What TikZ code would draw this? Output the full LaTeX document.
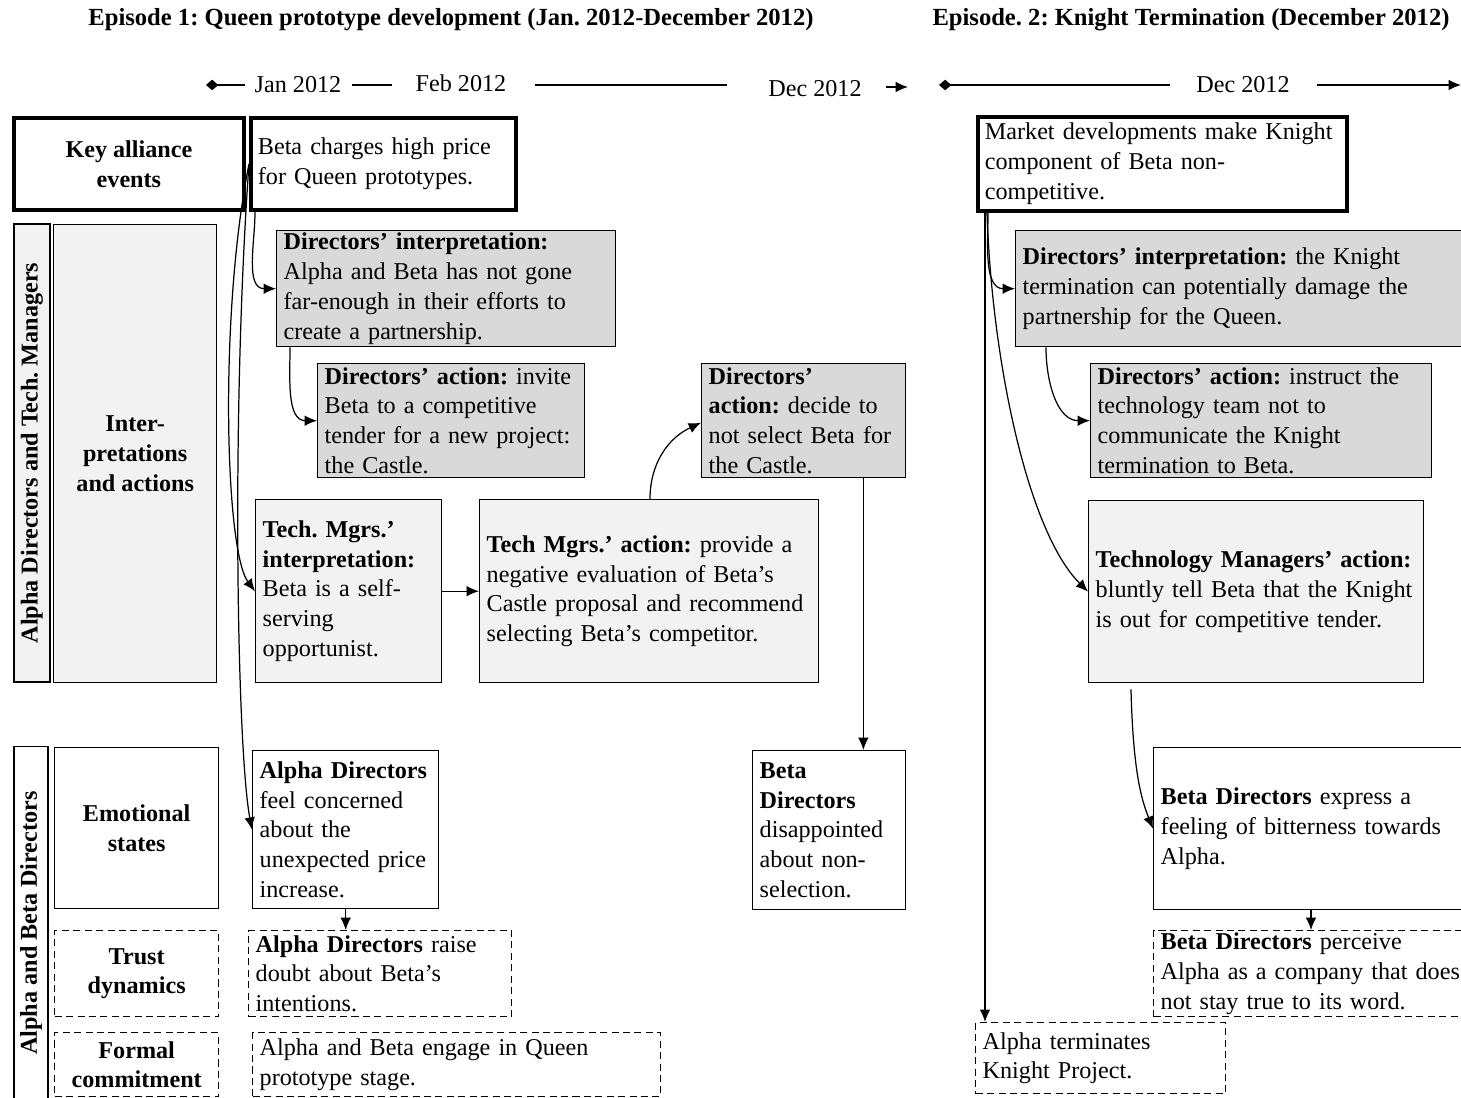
\documentclass[tikz,border=0pt]{standalone}
\usepackage{fontspec}
\setmainfont{Liberation Serif}
\usetikzlibrary{arrows.meta,calc}
\definecolor{darkfill}{HTML}{D9D9D9}
\definecolor{lightfill}{HTML}{F2F2F2}
\frenchspacing
\begin{document}
\begin{tikzpicture}[x=0.02cm, y=-0.02cm, >={Latex[length=7pt,width=6pt]},
	font=\fontsize{13.75pt}{17pt}\selectfont,
	box/.style = {draw, line width=0.8pt, anchor=north west, align=left, inner xsep=0.14cm, inner ysep=1pt},
	heavy/.style = {line width=2.2pt},
	dashbox/.style = {box, dash pattern=on 4pt off 2.5pt},
	dark/.style = {fill=darkfill},
	light/.style = {fill=lightfill},
	cat/.style = {draw, line width=0.8pt, anchor=north west, align=center, inner sep=0pt, font=\fontsize{13.75pt}{17pt}\selectfont\bfseries},
	side/.style = {draw, line width=0.8pt, rotate=90, inner sep=0pt, font=\fontsize{13.75pt}{17pt}\selectfont\bfseries},
	head/.style = {font=\fontsize{14pt}{17pt}\selectfont\bfseries},
	link/.style = {->, line width=0.7pt}]
	\useasboundingbox (0,0) rectangle (1461,1098);
	
	% headers and time line
	\node[head] (ep1) at (451,20) {Episode 1: Queen prototype development (Jan. 2012-December 2012)};
	\node[head] (ep2) at (1191,20) {Episode. 2: Knight Termination (December 2012)};
	\node (jan) at (298,85) {Jan 2012};
	\node (feb) at (461,83) {Feb 2012};
	\node (dec1) at (815,89) {Dec 2012};
	\node (dec2) at (1243,85) {Dec 2012};
	\coordinate (t0) at (206,85);
	\coordinate (t1) at (245,85);
	\coordinate (t2) at (352,85);
	\coordinate (t3) at (392,85);
	\coordinate (t4) at (535,85);
	\coordinate (t5) at (727,85);
	\coordinate (t6) at (886,87);
	\coordinate (t7) at (908,87);
	\coordinate (t8) at (939,85);
	\coordinate (t9) at (1170,85);
	\coordinate (t10) at (1317,85);
	\coordinate (t11) at (1461,85);
	\draw[line width=0.7pt, {Diamond[length=7pt,width=6pt]}-] (t0) -- (t1);
	\draw[line width=0.7pt] (t2) -- (t3);
	\draw[line width=0.7pt] (t4) -- (t5);
	\draw[link] (t6) -- (t7);
	\draw[line width=0.7pt, {Diamond[length=7pt,width=6pt]}-] (t8) -- (t9);
	\draw[link] (t10) -- (t11);
	
	% row labels
	\node[cat, heavy, minimum width=4.60cm, minimum height=1.84cm] (key) at (12,116) {Key alliance\\events};
	\node[side, light, minimum width=9.16cm, minimum height=0.72cm] (grp1) at (32,453) {Alpha Directors and Tech. Managers};
	\node[cat, light, minimum width=3.26cm, minimum height=9.16cm] (inter) at (53,224) {Inter-\\pretations\\and actions};
	\node[side, minimum width=7.06cm, minimum height=0.68cm] (grp2) at (31,923) {Alpha and Beta Directors};
	\node[cat, minimum width=3.28cm, minimum height=3.22cm] (emo) at (54,747) {Emotional\\states};
	\node[cat, dash pattern=on 4pt off 2.5pt, minimum width=3.28cm, minimum height=1.72cm] (trust) at (54,930) {Trust\\dynamics};
	\node[cat, dash pattern=on 4pt off 2.5pt, minimum width=3.28cm, minimum height=1.28cm] (formal) at (54,1032) {Formal\\commitment};
	
	% episode 1
	\node[box, heavy, text width=5.02cm, minimum height=1.84cm] (beta) at (249,116) {Beta charges high price\\for Queen prototypes.};
	\node[box, dark, text width=6.50cm, minimum height=2.32cm] (dint) at (276,230) {\textbf{Directors’ interpretation:}\\Alpha and Beta has not gone\\far-enough in their efforts to\\create a partnership.};
	\node[box, dark, text width=5.06cm, minimum height=2.28cm] (dact) at (317,363) {\textbf{Directors’ action:} invite\\Beta to a competitive\\tender for a new project:\\the Castle.};
	\node[box, dark, text width=3.80cm, minimum height=2.28cm] (ddec) at (701,363) {\textbf{Directors’}\\\textbf{action:} decide to\\not select Beta for\\the Castle.};
	\node[box, light, text width=3.44cm, minimum height=3.66cm] (tint) at (255,499) {\textbf{Tech. Mgrs.’}\\\textbf{interpretation:}\\Beta is a self-\\serving\\opportunist.};
	\node[box, light, text width=6.50cm, minimum height=3.66cm] (tact) at (479,499) {\textbf{Tech Mgrs.’ action:} provide a\\negative evaluation of Beta’s\\Castle proposal and recommend\\selecting Beta’s competitor.};
	\node[box, text width=3.44cm, minimum height=3.16cm] (feel) at (252,750) {\textbf{Alpha Directors}\\feel concerned\\about the\\unexpected price\\increase.};
	\node[box, text width=2.78cm, minimum height=3.18cm] (bdis) at (752,750) {\textbf{Beta}\\\textbf{Directors}\\disappointed\\about non-\\selection.};
	\node[dashbox, text width=4.98cm, minimum height=1.72cm] (doubt) at (248,930) {\textbf{Alpha Directors} raise\\doubt about Beta’s\\intentions.};
	\node[dashbox, text width=7.88cm, minimum height=1.28cm] (engage) at (252,1032) {Alpha and Beta engage in Queen\\prototype stage.};
	
	\draw[link] ($(beta.south west)+(6,0)$) to[out=270, in=180] (dint.west);
	\draw[link] (beta.west) .. controls +(-30,150) and +(-30,-40) .. (tint.west);
	\draw[link] (beta.west) .. controls +(-18,250) and +(-15,-80) .. (feel.west);
	\draw[link] ($(dint.south west)+(14,0)$) to[out=270, in=180] (dact.west);
	\draw[link] (tint.east) -- (tact.west);
	\draw[link] ($(tact.north west)+(171,0)$) to[out=90, in=205] ($(ddec.west)+(0,2)$);
	\coordinate (d1) at ($(ddec.south east)+(-43,0)$);
	\draw[link] (d1) -- (d1 |- bdis.north);
	\draw[link] (feel.south) -- (feel.south |- doubt.north);
	
	% episode 2
	\node[box, heavy, text width=7.10cm, minimum height=1.88cm] (market) at (976,115) {Market developments make Knight\\component of Beta non-\\competitive.};
	\node[box, dark, text width=8.72cm, minimum height=2.32cm] (dint2) at (1015,230) {\textbf{Directors’ interpretation:} the Knight\\termination can potentially damage the\\partnership for the Queen.};
	\node[box, dark, text width=6.54cm, minimum height=2.28cm] (dact2) at (1090,363) {\textbf{Directors’ action:} instruct the\\technology team not to\\communicate the Knight\\termination to Beta.};
	\node[box, light, text width=6.42cm, minimum height=3.64cm] (tact2) at (1088,500) {\textbf{Technology Managers’ action:}\\bluntly tell Beta that the Knight\\is out for competitive tender.};
	\node[box, text width=6.06cm, minimum height=3.24cm] (bexp) at (1153,747) {\textbf{Beta Directors} express a\\feeling of bitterness towards\\Alpha.};
	\node[dashbox, text width=6.06cm, minimum height=1.72cm] (bperc) at (1153,930) {\textbf{Beta Directors} perceive\\Alpha as a company that does\\not stay true to its word.};
	\node[dashbox, text width=4.72cm, minimum height=1.42cm] (aterm) at (975,1022) {Alpha terminates\\Knight Project.};
	
	\draw[link] ($(market.south west)+(12,0)$) to[out=270, in=180] (dint2.west);
	\draw[link] ($(market.south west)+(11,0)$) .. controls +(5,150) and +(-60,-60) .. (tact2.west);
	\coordinate (m1) at ($(market.south west)+(9,0)$);
	\draw[link] (m1) -- (m1 |- aterm.north);
	\draw[link] ($(dint2.south west)+(31,0)$) to[out=270, in=180] (dact2.west);
	\draw[link] ($(tact2.south west)+(43,6)$) .. controls +(2,80) and +(-12,-30) .. (bexp.west);
	\coordinate (b1) at ($(bexp.south west)+(158,0)$);
	\draw[link] (b1) -- (b1 |- bperc.north);
\end{tikzpicture}
\end{document}
